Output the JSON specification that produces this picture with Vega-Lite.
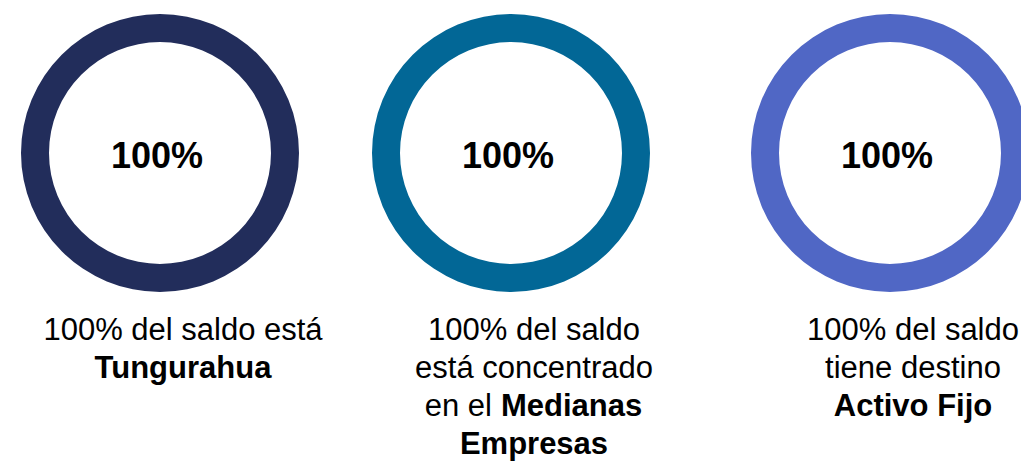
{
  "$schema": "https://vega.github.io/schema/vega-lite/v6.json",
  "width": 1021,
  "height": 461,
  "padding": 0,
  "autosize": {"type": "fit", "contains": "padding"},
  "background": "white",
  "config": {"view": {"stroke": null}, "font": "Liberation Sans"},
  "datasets": {
    "anillos": [
      {"grupo": 1, "valor": 100, "etiqueta": "100%", "segmento": "Tungurahua"},
      {"grupo": 2, "valor": 100, "etiqueta": "100%", "segmento": "Medianas Empresas"},
      {"grupo": 3, "valor": 100, "etiqueta": "100%", "segmento": "Activo Fijo"}
    ],
    "textos": [
      {"grupo": 1, "linea": 1, "texto": "100% del saldo está", "peso": "normal", "tramo": "completo"},
      {"grupo": 1, "linea": 2, "texto": "Tungurahua", "peso": "negrita", "tramo": "completo"},
      {"grupo": 2, "linea": 1, "texto": "100% del saldo", "peso": "normal", "tramo": "completo"},
      {"grupo": 2, "linea": 2, "texto": "está concentrado", "peso": "normal", "tramo": "completo"},
      {"grupo": 2, "linea": 3, "texto": "en el", "peso": "normal", "tramo": "antes"},
      {"grupo": 2, "linea": 3, "texto": "Medianas", "peso": "negrita", "tramo": "despues"},
      {"grupo": 2, "linea": 4, "texto": "Empresas", "peso": "negrita", "tramo": "completo"},
      {"grupo": 3, "linea": 1, "texto": "100% del saldo", "peso": "normal", "tramo": "completo"},
      {"grupo": 3, "linea": 2, "texto": "tiene destino", "peso": "normal", "tramo": "completo"},
      {"grupo": 3, "linea": 3, "texto": "Activo Fijo", "peso": "negrita", "tramo": "completo"}
    ]
  },
  "resolve": {"scale": {"x": "shared", "y": "shared"}},
  "layer": [
    {
      "data": {"name": "anillos"},
      "mark": {"type": "arc", "innerRadius": 111, "outerRadius": 139},
      "encoding": {
        "x": {"field": "grupo", "type": "quantitative", "stack": null, "axis": null, "scale": {"domain": [1, 2, 3], "range": [160, 511, 890], "nice": false, "zero": false}},
        "y": {"datum": 0, "type": "quantitative", "stack": null, "axis": null, "scale": {"domain": [0, 1, 4], "range": [153, 331, 445], "nice": false, "zero": false}},
        "theta": {"field": "valor", "type": "quantitative", "stack": false, "scale": {"domain": [0, 100], "range": [0, 6.2831853]}},
        "theta2": {"datum": 0},
        "color": {"field": "segmento", "type": "nominal", "legend": null, "scale": {"domain": ["Tungurahua", "Medianas Empresas", "Activo Fijo"], "range": ["#222D5B", "#026796", "#5067C5"]}}
      }
    },
    {
      "data": {"name": "anillos"},
      "mark": {"type": "text", "fontSize": 36, "fontWeight": "bold", "color": "#000000", "align": "center", "baseline": "middle", "dx": -3, "dy": 4},
      "encoding": {
        "x": {"field": "grupo", "type": "quantitative"},
        "y": {"datum": 0, "type": "quantitative"},
        "text": {"field": "etiqueta"}
      }
    },
    {
      "data": {"name": "textos"},
      "transform": [{"filter": "datum.peso == 'normal' && datum.tramo == 'completo'"}],
      "mark": {"type": "text", "fontSize": 31, "color": "#000000", "align": "center", "baseline": "middle", "dx": 23},
      "encoding": {
        "x": {"field": "grupo", "type": "quantitative"},
        "y": {"field": "linea", "type": "quantitative"},
        "text": {"field": "texto"}
      }
    },
    {
      "data": {"name": "textos"},
      "transform": [{"filter": "datum.peso == 'negrita' && datum.tramo == 'completo'"}],
      "mark": {"type": "text", "fontSize": 31, "fontWeight": "bold", "color": "#000000", "align": "center", "baseline": "middle", "dx": 23},
      "encoding": {
        "x": {"field": "grupo", "type": "quantitative"},
        "y": {"field": "linea", "type": "quantitative"},
        "text": {"field": "texto"}
      }
    },
    {
      "data": {"name": "textos"},
      "transform": [{"filter": "datum.tramo == 'antes'"}],
      "mark": {"type": "text", "fontSize": 31, "color": "#000000", "align": "right", "baseline": "middle", "dx": -19},
      "encoding": {
        "x": {"field": "grupo", "type": "quantitative"},
        "y": {"field": "linea", "type": "quantitative"},
        "text": {"field": "texto"}
      }
    },
    {
      "data": {"name": "textos"},
      "transform": [{"filter": "datum.tramo == 'despues'"}],
      "mark": {"type": "text", "fontSize": 31, "fontWeight": "bold", "color": "#000000", "align": "left", "baseline": "middle", "dx": -10},
      "encoding": {
        "x": {"field": "grupo", "type": "quantitative"},
        "y": {"field": "linea", "type": "quantitative"},
        "text": {"field": "texto"}
      }
    }
  ]
}
